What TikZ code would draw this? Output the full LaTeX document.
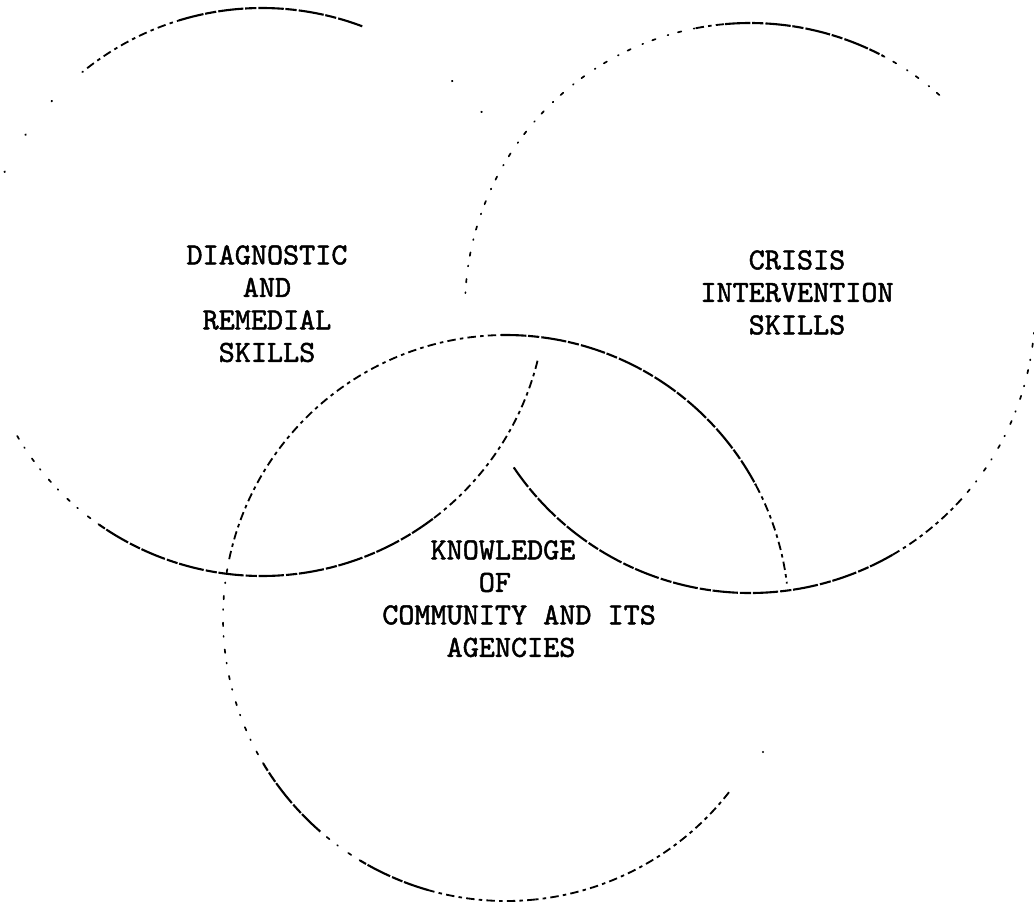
\documentclass[tikz,border=0pt]{standalone}
\usepackage{fontspec}
\newfontfamily\typewritten{lmmono10-regular.otf}[FakeBold=1.6]
\tikzset{
  ring/.style={line width=1.5pt, black},
  firm/.style={ring, dash pattern=on 18pt off 1.2pt on 8pt off 1.5pt},
  broken/.style={ring, line width=1.3pt, dash pattern=on 6pt off 3pt on 2.5pt off 3pt},
  sparse/.style={ring, line width=1.2pt, line cap=round, dash pattern=on 0.6pt off 7pt on 2.5pt off 9pt},
  speck/.style={ring, line width=1.5pt, line cap=round, dash pattern=on 0.3pt off 30pt},
  typed/.style={font=\typewritten\fontsize{21.8}{23.1}\selectfont, inner sep=0pt, anchor=north, align=center}
}
% one stretch of a ring: style, centre x, centre y, radius, from angle, to angle
\newcommand{\ringpart}[6]{%
  \draw[#1] plot[variable=\t, domain=#5:#6, samples=90, smooth]
    ({#2+#4*cos(\t)},{#3+#4*sin(\t)});}
\begin{document}
\begin{tikzpicture}[x=0.025cm, y=-0.025cm]
  \useasboundingbox (0,0) rectangle (1034,903);
  \clip (0,0) rectangle (1034,903);

  % left ring: diagnostic and remedial skills
  \ringpart{broken}{262}{292}{284}{14}{53}
  \ringpart{firm}{262}{292}{284}{53}{125}
  \ringpart{sparse}{262}{292}{284}{125}{152}
  \ringpart{speck}{262}{292}{284}{205}{232}
  \ringpart{broken}{262}{292}{284}{232}{253}
  \ringpart{firm}{262}{292}{284}{253}{291}
  \ringpart{speck}{262}{292}{284}{312}{322}

  % right ring: crisis intervention skills
  \ringpart{sparse}{750}{308}{285}{5}{42}
  \ringpart{broken}{750}{308}{285}{42}{60}
  \ringpart{firm}{750}{308}{285}{60}{146}
  \ringpart{sparse}{750}{308}{285}{183}{259}
  \ringpart{broken}{750}{308}{285}{259}{265}
  \ringpart{firm}{750}{308}{285}{265}{298}
  \ringpart{sparse}{750}{308}{285}{298}{312}

  % lower ring: knowledge of community and its agencies
  \ringpart{broken}{506}{618}{283}{38}{84}
  \ringpart{broken}{506}{618}{283}{84}{106}
  \ringpart{firm}{506}{618}{283}{106}{121}
  \ringpart{sparse}{506}{618}{283}{121}{131}
  \ringpart{firm}{506}{618}{283}{131}{149}
  \ringpart{sparse}{506}{618}{283}{149}{192}
  \ringpart{broken}{506}{618}{283}{192}{269}
  \ringpart{firm}{506}{618}{283}{269}{332}
  \ringpart{broken}{506}{618}{283}{332}{353}
  \fill (763,752) circle (1.2);

  % labels
  \node[typed] (dia) at (267,245) {DIAGNOSTIC\\AND\\REMEDIAL\\SKILLS};
  \node[typed] (cri) at (797,250) {CRISIS\\INTERVENTION\\SKILLS};
  \node[typed, anchor=north west, align=left] (kno) at (382,540)
    {\phantom{XXX}KNOWLEDGE\\\phantom{XXXXXX}OF\\COMMUNITY AND ITS\\\phantom{XXXX}AGENCIES};
\end{tikzpicture}
\end{document}
